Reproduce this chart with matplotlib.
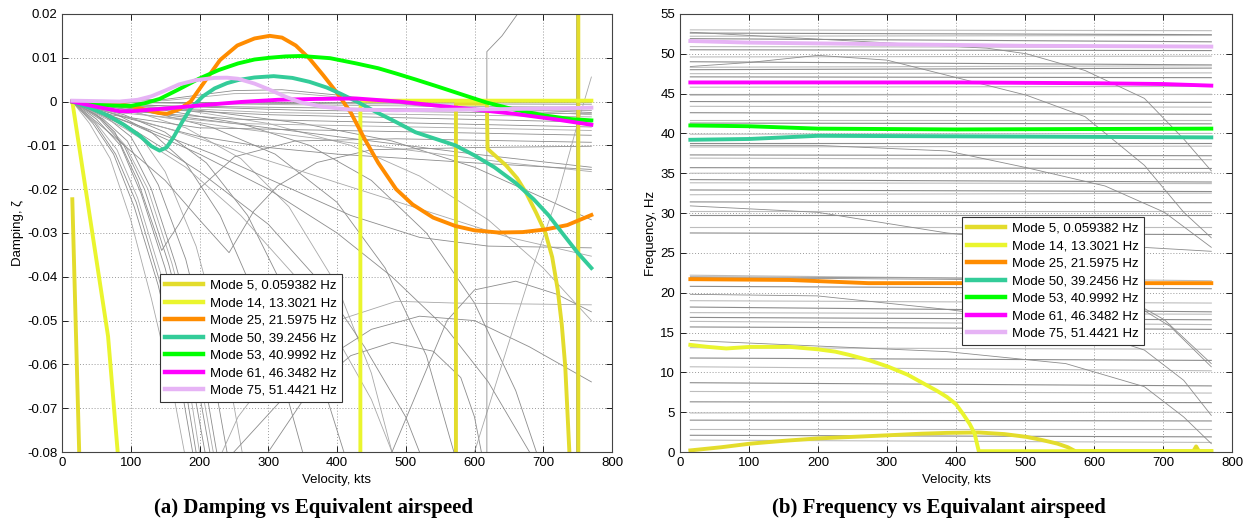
import numpy as np
import matplotlib
matplotlib.use('Agg')
import matplotlib.pyplot as plt

plt.rcParams['font.family'] = ['Liberation Sans', 'DejaVu Sans']

# velocity range of the sweep
v_start = 15
v_end = 770

# ---- highlighted modes ----
labels = ['Mode 5, 0.059382 Hz', 'Mode 14, 13.3021 Hz', 'Mode 25, 21.5975 Hz',
          'Mode 50, 39.2456 Hz', 'Mode 53, 40.9992 Hz', 'Mode 61, 46.3482 Hz',
          'Mode 75, 51.4421 Hz']
colors = ['#e3dc2c', '#eaf52e', '#ff8c00', '#33cc99', '#00ff00', '#ff00ff', '#e6b3f5']

# damping (x1000), pieces of one mode
damp_modes = [
    [[(15, -22.3), (25, -80)],
     [(573, -80), (573, -0.5), (618, -0.5), (619, -10.8), (646, -14.6), (662, -17.5), (675, -20.8),
      (690, -25.5), (703, -29.9), (713, -35.5), (721, -42.9), (727, -51), (732, -60.5), (738, -80)],
     [(751, -80), (751, 25)]],
    [[(15, 0), (67, -53.6), (81, -80)],
     [(434, -80), (434, -1.5), (436, 0.2), (770, 0.2)]],
    [[(15, 0), (60, -0.4), (100, -1.0), (120, -1.8), (140, -2.6), (153, -2.8), (170, -1.8),
      (187, 0), (205, 4), (230, 9.5), (255, 12.8), (280, 14.4), (302, 15.0), (320, 14.6),
      (340, 12.8), (360, 9.8), (380, 6), (400, 2), (420, -2.5), (440, -8.5), (460, -14),
      (486, -20), (510, -23.5), (540, -26.5), (572, -28.4), (600, -29.4), (635, -29.9),
      (670, -29.8), (703, -29.2), (735, -28.2), (770, -25.9)]],
    [[(15, 0), (40, -1.4), (67, -3.2), (90, -5.3), (113, -7.8), (130, -10.2), (142, -11.2),
      (152, -10.5), (162, -8.2), (175, -4.6), (187, -1.6), (205, 1.2), (222, 3.0), (240, 4.2),
      (256, 4.9), (280, 5.5), (308, 5.8), (335, 5.4), (360, 4.5), (385, 3.2), (405, 1.8),
      (430, -0.1), (457, -2.4), (485, -4.6), (514, -7.0), (545, -8.6), (572, -10.0),
      (600, -12.3), (629, -15.0), (660, -18.6), (686, -22.3), (708, -26), (727, -29.9),
      (750, -34.5), (770, -38.0)]],
    [[(15, 0), (60, -0.8), (100, -1.0), (120, -0.4), (142, 0.6), (170, 2.8), (199, 5.2),
      (228, 7.2), (256, 8.7), (280, 9.6), (302, 10.0), (325, 10.3), (348, 10.4), (390, 9.9),
      (428, 8.7), (460, 7.6), (486, 6.4), (515, 5.0), (543, 3.6), (580, 1.7), (617, -0.2),
      (660, -1.9), (703, -3.2), (740, -4.0), (770, -4.3)]],
    [[(15, 0), (50, -1.2), (84, -2.2), (101, -2.2), (150, -1.6), (199, -0.9), (260, -0.1),
      (314, 0.4), (370, 0.6), (428, 0.7), (490, 0), (543, -0.9), (600, -1.8), (658, -2.8),
      (715, -4.0), (770, -5.3)]],
    [[(15, 0.2), (50, 0.1), (84, 0), (110, 0.4), (130, 1.2), (150, 2.5), (170, 3.9),
      (195, 4.9), (222, 5.4), (240, 5.45), (256, 5.2), (280, 4.1), (302, 2.7), (325, 1.1),
      (348, -0.2), (380, -1.2), (417, -1.8), (486, -2.0), (600, -1.8), (700, -1.6), (770, -1.4)]],
]

# frequency (Hz)
freq_modes = [
    [[(15, 0.2), (60, 0.6), (102, 1.05), (150, 1.4), (199, 1.7), (250, 1.9), (302, 2.1),
      (350, 2.3), (387, 2.4), (433, 2.45), (470, 2.25), (502, 1.9), (525, 1.5), (547, 1.05),
      (562, 0.6), (573, 0.1), (744, 0.1), (748, 0.7), (752, 0.1), (770, 0.1)]],
    [[(15, 13.45), (40, 13.2), (67, 13.0), (102, 13.2), (159, 13.2), (199, 12.9), (225, 12.6),
      (245, 12.2), (275, 11.5), (302, 10.7), (330, 9.7), (353, 8.6), (372, 7.7), (387, 6.9),
      (400, 6.0), (410, 4.8), (420, 3.5), (427, 2.3), (433, 0.1), (770, 0.1)]],
    [[(15, 21.7), (159, 21.6), (273, 21.2), (770, 21.2)]],
    [[(15, 39.2), (100, 39.3), (150, 39.5), (200, 39.7), (500, 39.6), (770, 39.5)]],
    [[(15, 41.0), (100, 40.9), (150, 40.75), (200, 40.6), (400, 40.5), (770, 40.6)]],
    [[(15, 46.4), (400, 46.4), (600, 46.3), (700, 46.2), (770, 46.0)]],
    [[(15, 51.6), (100, 51.4), (300, 51.2), (500, 51.0), (770, 50.9)]],
]

# ---- background modes, damping (x1000) ----
damp_grey = [
    [(15, 0), (40, -5), (70, -13), (100, -27), (130, -45), (160, -65), (178, -80)],
    [(15, 0), (45, -5), (75, -12), (105, -24), (140, -42), (170, -62), (190, -80)],
    [(15, 0), (48, -5), (78, -12), (108, -23), (142, -41), (175, -61), (195, -80)],
    [(15, 0), (50, -5), (80, -11), (110, -22), (145, -40), (180, -60), (200, -80)],
    [(15, 0), (50, -4), (85, -10), (115, -21), (150, -38), (185, -60), (208, -80)],
    [(15, 0), (55, -4), (90, -10), (120, -20), (155, -37), (190, -58), (215, -80)],
    [(15, 0), (58, -4), (92, -10), (125, -20), (160, -37), (195, -58), (220, -80)],
    [(15, 0), (60, -4), (95, -9), (130, -20), (165, -37), (200, -57), (225, -80)],
    [(15, 0), (60, -3), (100, -8), (140, -19), (180, -36), (215, -58), (240, -80)],
    [(15, 0), (70, -3), (110, -7), (150, -16), (195, -33), (235, -56), (262, -80)],
    [(15, 0), (80, -3), (130, -7), (180, -14), (230, -26), (280, -44), (320, -63), (350, -80)],
    [(15, 0), (90, -3), (150, -7), (210, -14), (270, -26), (330, -45), (380, -65), (410, -80)],
    [(15, 0), (100, -2), (180, -6), (260, -13), (330, -24), (400, -42), (450, -62), (480, -80)],
    [(15, 0), (120, -2), (220, -6), (310, -12), (400, -23), (470, -38), (530, -58), (570, -80)],
    [(15, 0), (150, -2), (260, -5), (360, -10), (450, -18), (530, -30), (600, -46), (660, -66), (690, -80)],
    [(15, 0), (180, -2), (300, -5), (420, -10), (520, -17), (620, -27), (700, -38), (770, -50)],
    [(15, 0), (200, -2), (350, -5), (480, -9), (600, -15), (700, -22), (770, -27)],
    [(15, 0), (150, -3), (300, -6), (450, -9), (600, -12), (770, -15)],
    [(15, 0), (120, -3), (250, -6), (400, -9), (550, -12), (650, -14), (770, -16)],
    [(15, 0), (770, 0)],
    [(15, 0), (200, -0.3), (400, -0.5), (770, -0.6)],
    [(15, 0), (200, -0.5), (500, -1), (770, -1.3)],
    [(15, 0), (150, -1), (400, -1.5), (770, -2)],
    [(15, 0), (150, -1), (350, -2), (770, -2.8)],
    [(15, 0), (100, -1), (300, -2.5), (770, -3.5)],
    [(15, 0), (100, -1.5), (300, -3), (770, -4.7)],
    [(15, 0), (80, -2), (250, -4), (770, -5.8)],
    [(15, 0), (80, -2.5), (250, -5), (770, -6.6)],
    [(15, 0), (70, -3), (200, -6), (770, -7.7)],
    [(15, 0), (150, 0.5), (250, 2.5), (320, 2.7), (400, 1.5), (500, -0.5), (600, -1.5), (770, -2.5)],
    [(15, 0), (150, 0.2), (250, 1.8), (330, 2.0), (420, 0.8), (520, -1), (770, -3)],
    [(15, 0), (50, -3), (77, -7), (110, -18), (145, -34), (170, -28), (199, -20), (251, -12.6),
     (339, -9), (486, -8.5), (770, -9.3)],
    [(15, 0), (83, -9), (150, -18), (200, -27), (243, -34.5), (279, -25), (314, -19.2),
     (371, -13.9), (450, -11), (600, -10.5), (770, -10.2)],
    [(233, -80), (256, -72), (314, -60), (400, -50), (486, -45.6), (572, -46), (770, -46.4)],
    [(300, -80), (360, -66), (420, -58), (480, -55), (540, -57), (580, -63), (600, -72), (610, -80)],
    [(250, -80), (320, -68), (390, -58), (450, -52), (520, -49), (600, -50), (680, -56), (770, -64)],
    [(600, -80), (640, -60), (680, -40), (720, -22), (750, -5), (770, 5.6)],
    [(618, -80), (618, 11.4), (640, 15), (665, 20.5)],
    [(15, 0), (100, -4), (200, -8), (300, -10.5), (400, -12), (600, -14), (770, -15.5)],
    [(15, 0), (150, -6), (250, -11), (350, -16), (450, -21), (550, -26), (650, -31), (770, -35.3)],
    [(15, 0), (120, -6), (220, -12), (320, -19), (420, -26), (520, -31), (620, -33), (770, -33.4)],
    [(15, 0), (100, -5), (200, -12), (300, -20), (400, -30), (480, -40), (560, -52), (620, -64), (680, -80)],
    [(15, 0), (90, -6), (180, -15), (260, -26), (340, -40), (400, -54), (450, -68), (480, -80)],
    [(15, 0), (110, -7), (200, -16), (300, -28), (380, -42), (440, -56), (500, -72), (520, -80)],
    [(480, -80), (520, -65), (560, -50), (600, -43), (660, -41), (720, -44), (770, -48)],
    [(434, -80), (434, 0)],
    [(571, -80), (571, 0)],
    [(748, -80), (748, 25)],
]

# ---- background modes, frequency: nearly flat ones (start, end) ----
freq_flat = [
    (53.0, 52.9), (52.6, 52.4), (52.2, 52.3), (51.9, 51.5), (50.9, 50.8), (50.5, 50.4),
    (49.6, 49.7), (49.0, 48.6), (48.3, 48.5), (48.0, 48.2), (47.5, 47.6), (47.1, 47.0),
    (45.8, 45.9), (45.0, 45.0), (44.8, 44.9), (44.0, 43.9), (43.4, 43.3), (42.6, 42.4),
    (41.7, 41.7), (41.3, 41.2), (39.9, 40.0), (38.8, 38.8), (38.3, 38.4), (37.3, 37.2),
    (36.9, 36.7), (35.7, 35.6), (35.0, 35.1), (34.2, 33.9), (33.8, 33.7), (32.9, 32.7),
    (32.3, 32.5), (31.4, 31.3), (30.2, 30.2), (29.8, 29.8), (28.2, 28.2), (27.5, 27.3),
    (22.2, 21.5), (20.8, 20.5), (19.0, 18.7), (18.2, 17.6), (17.5, 17.3), (16.9, 16.6),
    (16.4, 16.0), (15.7, 15.4), (13.1, 12.9), (11.8, 11.5), (10.7, 10.2), (8.7, 8.3),
    (7.6, 7.4), (6.3, 6.2), (4.9, 5.0), (4.0, 3.9), (2.9, 2.9), (2.1, 1.9), (1.5, 1.2),
]

# frequency: curved ones
freq_grey = [
    [(15, 52.7), (273, 51.5), (445, 50.7), (502, 50.0), (587, 47.9), (673, 44.4), (730, 39.3), (770, 35.3)],
    [(15, 48.4), (100, 48.9), (200, 49.8), (300, 49.2), (387, 47.3), (502, 44.8), (587, 42.1),
     (673, 36.0), (730, 30.1), (770, 26.9)],
    [(15, 38.5), (199, 38.5), (387, 37.8), (502, 35.7), (616, 33.4), (702, 30.1), (770, 25.7)],
    [(15, 30.9), (199, 30.1), (387, 27.5), (502, 26.5), (650, 25.8), (770, 25.2)],
    [(15, 19.8), (199, 19.6), (387, 17.9), (559, 16.0), (673, 12.8), (730, 9.0), (770, 4.6)],
    [(15, 14.0), (387, 12.6), (559, 11.1), (673, 8.2), (730, 4.4), (770, 1.05)],
    [(15, 22.0), (500, 21.8), (616, 20.8), (702, 16.6), (770, 11.1)],
    [(15, 21.9), (520, 21.6), (630, 20.0), (710, 15.8), (770, 10.7)],
]


def pieces_to_xy(pieces, scale=1.0):
    xs, ys = [], []
    for p in pieces:
        xs += [q[0] for q in p] + [np.nan]
        ys += [q[1] * scale for q in p] + [np.nan]
    return xs, ys


def style_axes(ax):
    ax.set_xlim(0, 800)
    ax.set_xticks(range(0, 801, 100))
    ax.grid(True, color='#9a9a9a', linestyle=(0, (1, 2)), linewidth=0.7)
    ax.tick_params(direction='in', top=True, right=True, labelsize=9.5, length=4, width=0.6)
    for s in ax.spines.values():
        s.set_color('#444444')
        s.set_linewidth(0.8)
    ax.set_xlabel('Velocity, kts', fontsize=9.5, labelpad=4)


def add_legend(ax, anchor):
    leg = ax.legend(loc='lower left', bbox_to_anchor=anchor, borderaxespad=0,
                    fontsize=9.5, handlelength=2.9, handletextpad=0.5, labelspacing=0.4,
                    fancybox=False, framealpha=1, edgecolor='#333333', borderpad=0.4)
    leg.get_frame().set_linewidth(0.8)
    for h in leg.get_lines():
        h.set_linewidth(3.2)


fig = plt.figure(figsize=(12.5, 5.24), dpi=100)
ax1 = fig.add_axes([0.0496, 0.1374, 0.44, 0.836])
ax2 = fig.add_axes([0.544, 0.1374, 0.4416, 0.836])

# damping
for i, g in enumerate(damp_grey):
    c = '#8c8c8c' if i % 3 else '#a8a8a8'
    ax1.plot([q[0] for q in g], [q[1] * 1e-3 for q in g], color=c, lw=0.6)
for pieces, c, lab in zip(damp_modes, colors, labels):
    xs, ys = pieces_to_xy(pieces, 1e-3)
    ax1.plot(xs, ys, color=c, lw=2.8, label=lab)
ax1.set_ylim(-0.08, 0.02)
ax1.set_yticks(np.arange(-0.08, 0.0201, 0.01))
ax1.set_yticklabels(['-0.08', '-0.07', '-0.06', '-0.05', '-0.04', '-0.03', '-0.02', '-0.01', '0', '0.01', '0.02'])
ax1.set_ylabel('Damping, \u03b6', fontsize=9.5, labelpad=2)
style_axes(ax1)
add_legend(ax1, (0.178, 0.114))

# frequency
for i, (a, b) in enumerate(freq_flat):
    c = '#8c8c8c' if i % 2 else '#bdbdbd'
    ax2.plot([v_start, v_end], [a, b], color=c, lw=0.8)
for g in freq_grey:
    ax2.plot([q[0] for q in g], [q[1] for q in g], color='#8c8c8c', lw=0.6)
for pieces, c, lab in zip(freq_modes, colors, labels):
    xs, ys = pieces_to_xy(pieces)
    ax2.plot(xs, ys, color=c, lw=2.8, label=lab)
ax2.set_ylim(0, 55)
ax2.set_yticks(range(0, 56, 5))
ax2.set_ylabel('Frequency, Hz', fontsize=9.5, labelpad=2)
style_axes(ax2)
add_legend(ax2, (0.51, 0.244))

fig.text(0.251, 0.03, '(a) Damping vs Equivalent airspeed', ha='center', va='center',
         family='Liberation Serif', weight='bold', fontsize=15)
fig.text(0.751, 0.03, '(b) Frequency vs Equivalant airspeed', ha='center', va='center',
         family='Liberation Serif', weight='bold', fontsize=15)

fig.savefig('out.png', dpi=100)
